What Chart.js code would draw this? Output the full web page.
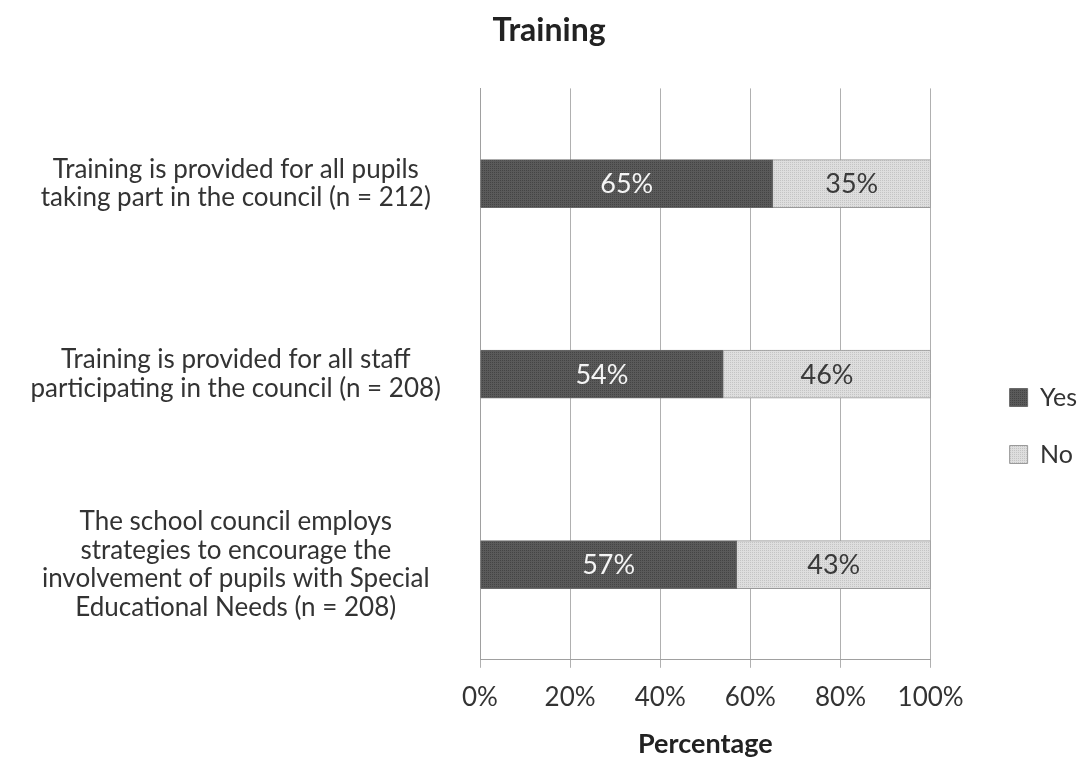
<!DOCTYPE html>
<html>
<head>
<meta charset="utf-8">
<script src="https://cdn.jsdelivr.net/npm/chart.js@4/dist/chart.umd.min.js"></script>
<style>
  html, body { margin: 0; padding: 0; background: #fff; }
  #wrap { width: 1079px; height: 758px; }
</style>
</head>
<body>
<div id="wrap"><canvas id="grafico" width="1079" height="758"></canvas></div>
<script>
// dados
var categorias = [
    ["Training is provided for all pupils", "taking part in the council (n = 212)"],
    ["Training is provided for all staff", "participating in the council (n = 208)"],
    ["The school council employs", "strategies to encourage the", "involvement of pupils with Special", "Educational Needs (n = 208)"]
];
var sim = [65, 54, 57];
var nao = [35, 46, 43];
var rotulosX = ["0%", "20%", "40%", "60%", "80%", "100%"];

var fonte = "Lato, 'Open Sans', sans-serif";

// textura tipo hachura do excel
function textura(fundo, ponto){
    var c = document.createElement("canvas");
    c.width = 4; c.height = 4;
    var g = c.getContext("2d");
    g.fillStyle = fundo;
    g.fillRect(0, 0, 4, 4);
    g.fillStyle = ponto;
    g.fillRect(0, 0, 1, 1);
    g.fillRect(2, 2, 1, 1);
    g.fillRect(2, 0, 1, 1);
    g.fillRect(0, 2, 1, 1);
    return g.createPattern(c, "repeat");
}

// escreve o percentual no meio de cada barra
var rotulosBarras = {
    id: "rotulosBarras",
    afterDatasetsDraw: function(chart){
        var ctx = chart.ctx;
        chart.data.datasets.forEach(function(ds, d){
            var meta = chart.getDatasetMeta(d);
            meta.data.forEach(function(bar, i){
                var meio = (bar.x + bar.base) / 2;
                ctx.save();
                ctx.font = "27px " + fonte;
                ctx.textAlign = "center";
                ctx.textBaseline = "middle";
                ctx.fillStyle = d == 0 ? "#f4f4f4" : "#3a3a3a";
                ctx.fillText(ds.data[i] + "%", meio, bar.y + 1);
                ctx.restore();
            });
        });
    }
};

// afasta a legenda do grafico e centra o titulo (como no excel)
var ajustaCaixas = {
    id: "ajustaCaixas",
    afterLayout: function(chart){
        var l = chart.legend;
        l.left += 47; l.right += 47;
        l.top += 47; l.bottom += 47;
        var t = chart.titleBlock;
        t.left += 29; t.right += 29;
    }
};

var ctx = document.getElementById("grafico").getContext("2d");
var chart = new Chart(ctx, {
    type: "bar",
    data: {
        labels: categorias,
        datasets: [{
            label: "Yes",
            data: sim,
            backgroundColor: textura("#5a5a5a", "#444444"),
            borderColor: "#6a6a6a",
            borderWidth: 1,
            barThickness: 48
        }, {
            label: "No",
            data: nao,
            backgroundColor: textura("#dedede", "#c4c4c4"),
            borderColor: "#9a9a9a",
            borderWidth: 1,
            barThickness: 48
        }]
    },
    options: {
        indexAxis: "y",
        responsive: false,
        animation: false,
        layout: { padding: { left: 0, right: 39, top: 0, bottom: 0 } },
        plugins: {
            title: {
                display: true,
                text: "Training",
                color: "#222",
                font: { family: fonte, size: 32, weight: "bold" },
                padding: { top: 11, bottom: 39 }
            },
            legend: {
                position: "right",
                align: "center",
                labels: {
                    color: "#333",
                    font: { family: fonte, size: 25 },
                    boxWidth: 18,
                    boxHeight: 18,
                    padding: 32
                }
            },
            tooltip: { enabled: false }
        },
        scales: {
            x: {
                stacked: true,
                min: 0,
                max: 100,
                ticks: {
                    stepSize: 20,
                    color: "#333",
                    font: { family: fonte, size: 26 },
                    padding: 14,
                    callback: function(v, i){ return rotulosX[i]; }
                },
                grid: { color: "#b0b0b0", lineWidth: 1, tickLength: 8, drawTicks: true },
                border: { display: true, color: "#a0a0a0" },
                title: {
                    display: true,
                    text: "Percentage",
                    color: "#222",
                    font: { family: fonte, size: 27, weight: "bold", lineHeight: 1.0 },
                    padding: { top: 4, bottom: 0 }
                }
            },
            y: {
                stacked: true,
                afterFit: function(escala){
                    escala.width = 480;
                    escala.paddingTop = 0;
                    escala.paddingBottom = 0;
                },
                ticks: {
                    color: "#333",
                    font: { family: fonte, size: 26, lineHeight: 1.1 },
                    crossAlign: "center",
                    padding: 31
                },
                grid: { display: false },
                border: { display: true, color: "#a0a0a0" }
            }
        }
    },
    plugins: [rotulosBarras, ajustaCaixas]
});
</script>
</body>
</html>
